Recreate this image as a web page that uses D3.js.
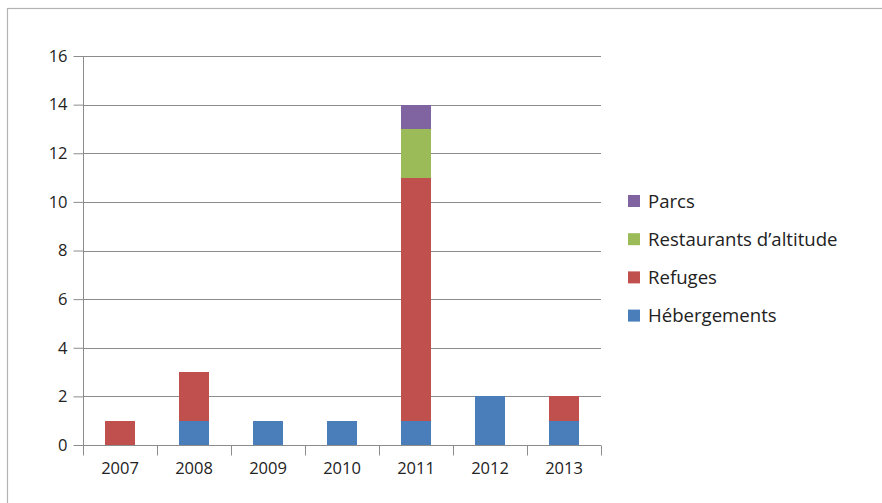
<!DOCTYPE html>
<html><head><meta charset="utf-8">
<script src="https://cdn.jsdelivr.net/npm/d3@7"></script>
<style>body{margin:0;background:#fff}svg{display:block}text{font-family:"Open Sans","Liberation Sans",sans-serif;fill:#222}</style>
</head><body>
<script>
const years = ["2007","2008","2009","2010","2011","2012","2013"];
const hebergements = [0,1,1,1,1,2,1];
const refuges = [1,2,0,0,10,0,1];
const restaurants = [0,0,0,0,2,0,0];
const parcs = [0,0,0,0,1,0,0];
const seriesNames = ["Hébergements","Refuges","Restaurants d’altitude","Parcs"];
const seriesColors = ["#4a7ebb","#c0504d","#9bbb59","#8064a2"];
const yTicks = [0,2,4,6,8,10,12,14,16];

const W=882,H=503;
const svg=d3.select("body").append("svg").attr("width",W).attr("height",H);
svg.append("rect").attr("x",7.5).attr("y",8.5).attr("width",W).attr("height",H).attr("fill","none").attr("stroke","#b3b3b3").attr("stroke-width",1.2);

const x=d3.scaleBand().domain(years).range([83,601]).paddingInner(0).paddingOuter(0);
const y=d3.scaleLinear().domain([0,16]).range([445,56]);

const rows=years.map((yr,i)=>({year:yr,"Hébergements":hebergements[i],"Refuges":refuges[i],"Restaurants d’altitude":restaurants[i],"Parcs":parcs[i]}));
const stack=d3.stack().keys(seriesNames)(rows);

// gridlines
svg.append("g").selectAll("line").data(yTicks.filter(d=>d>0)).join("line")
  .attr("x1",83).attr("x2",601).attr("y1",d=>Math.round(y(d))+0.5).attr("y2",d=>Math.round(y(d))+0.5)
  .attr("stroke","#8c8c8c").attr("stroke-width",1);

const barW=30;
stack.forEach((s,si)=>{
  svg.append("g").attr("shape-rendering","crispEdges").selectAll("rect").data(s).join("rect")
    .attr("x",(d,i)=>Math.round(x(years[i])+x.bandwidth()/2-barW/2))
    .attr("width",barW)
    .attr("y",d=>Math.round(y(d[1])))
    .attr("height",d=>Math.round(y(d[0]))-Math.round(y(d[1])))
    .attr("fill",seriesColors[si]);
});

// y axis
const ya=svg.append("g").attr("transform","translate(83.5,0)")
  .call(d3.axisLeft(y).tickValues(yTicks).tickSize(10).tickPadding(6).tickFormat(d3.format("d")));
ya.select(".domain").attr("stroke","#8c8c8c").attr("d","M0,"+y(16)+"V"+y(0));
ya.selectAll(".tick line").attr("stroke","#8c8c8c");
ya.selectAll("text").attr("font-size",16.5).style("fill","#222");

// x axis
const xa=svg.append("g").attr("transform","translate(0,"+(Math.round(y(0))+0.5)+")")
  .call(d3.axisBottom(x).tickSize(0).tickPadding(17));
xa.select(".domain").attr("stroke","#8c8c8c").attr("d","M83,0H601");
xa.selectAll("text").attr("font-size",16.5).style("fill","#222");
const bounds=years.map(v=>x(v)).concat([601]);
xa.append("g").selectAll("line").data(bounds).join("line")
  .attr("x1",d=>Math.round(d)+0.5).attr("x2",d=>Math.round(d)+0.5).attr("y1",0).attr("y2",10)
  .attr("stroke","#8c8c8c");

// legend
const legendOrder=[3,2,1,0];
const leg=svg.append("g");
legendOrder.forEach((si,k)=>{
  const cy=201+k*38.2;
  leg.append("rect").attr("x",628).attr("y",cy-6).attr("width",12).attr("height",12).attr("fill",seriesColors[si]);
  leg.append("text").attr("x",648).attr("y",cy).attr("dy","0.36em").attr("font-size",18.6).text(seriesNames[si]);
});
</script>
</body></html>
